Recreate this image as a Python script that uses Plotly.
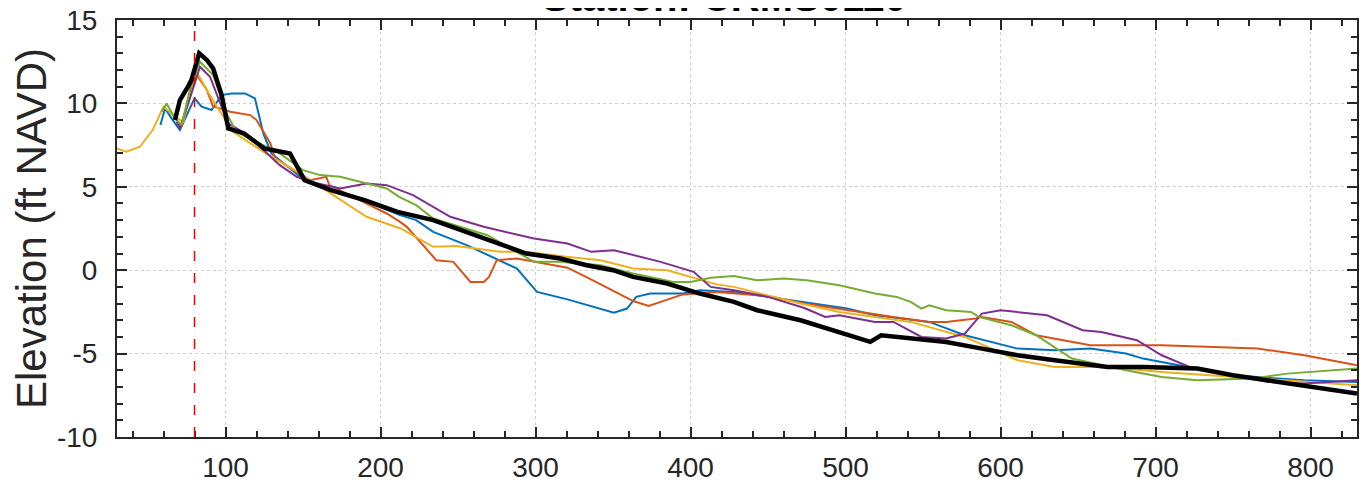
import plotly.graph_objects as go

# ---- data (station distance, elevation ft NAVD) ----
blue_x = [58, 61, 66, 70.6, 80, 84.6, 91, 97.5, 104, 112.6, 119, 124.4, 129.6, 151, 191, 212.6, 223, 234, 255.6, 288, 301, 320.6, 350.6, 359, 365, 374, 395, 406, 428, 471, 501, 519, 554, 577, 611, 635, 658, 681, 692, 715, 750, 796, 830]
blue_y = [8.7, 9.7, 9.0, 8.4, 10.3, 9.8, 9.6, 10.5, 10.6, 10.6, 10.3, 8.2, 7.0, 5.4, 4.1, 3.3, 3.0, 2.3, 1.5, 0.1, -1.3, -1.75, -2.55, -2.3, -1.6, -1.4, -1.4, -1.2, -1.3, -1.9, -2.3, -2.7, -3.1, -3.9, -4.7, -4.8, -4.7, -5.0, -5.3, -5.7, -6.3, -6.6, -6.7]

orange_x = [68.5, 71.7, 77, 81.4, 88, 92, 96.5, 103, 116, 120, 129, 132, 154.5, 165, 167, 180, 204, 212.6, 217, 236, 247, 258, 266.6, 270, 275, 288, 320.6, 338, 363, 373, 395, 417, 450, 473, 501, 531, 554, 565, 584, 588, 607, 623, 658, 704, 766, 796, 830]
orange_y = [9.0, 8.6, 10.6, 11.7, 10.8, 9.8, 9.7, 9.5, 9.3, 9.0, 7.6, 6.7, 5.4, 5.6, 5.1, 4.5, 3.4, 2.9, 2.6, 0.6, 0.5, -0.7, -0.7, -0.4, 0.6, 0.7, 0.15, -0.65, -1.85, -2.15, -1.45, -1.3, -1.55, -2.0, -2.4, -2.8, -3.1, -3.1, -2.9, -2.8, -3.1, -3.9, -4.5, -4.5, -4.7, -5.1, -5.7]

yellow_x = [30, 36, 44.8, 53, 60, 67.4, 72.8, 77, 82, 87.9, 96.5, 103, 104.8, 126, 148, 169.6, 191, 213, 234, 249, 277, 294, 320, 342, 363, 385, 400, 417, 428, 471, 496, 542, 577, 611, 635, 669, 704, 750, 796, 830]
yellow_y = [7.3, 7.1, 7.4, 8.4, 9.8, 9.2, 8.9, 10.4, 11.8, 10.8, 9.5, 8.5, 8.3, 7.0, 5.8, 4.5, 3.2, 2.5, 1.4, 1.45, 1.1, 1.1, 0.8, 0.6, 0.1, 0.0, -0.4, -0.85, -1.0, -2.0, -2.5, -3.1, -4.0, -5.4, -5.8, -5.8, -6.1, -6.4, -6.7, -6.9]

purple_x = [68.5, 70.6, 77, 83.5, 90, 96.5, 101.6, 111, 120, 135, 146, 154.5, 174, 191, 204, 221, 245, 266.6, 299, 320.6, 336, 350.6, 380.7, 402, 413, 428, 450, 473, 487, 496, 519, 531, 549, 565, 577, 588, 600, 630, 653, 665, 688, 704, 722, 750, 773, 796, 830]
purple_y = [8.9, 8.5, 10.3, 12.2, 11.6, 10.0, 8.8, 8.3, 7.6, 6.3, 5.6, 5.3, 4.9, 5.2, 5.1, 4.5, 3.2, 2.6, 1.9, 1.6, 1.1, 1.2, 0.5, -0.1, -1.0, -1.2, -1.6, -2.25, -2.8, -2.7, -3.1, -3.1, -4.0, -4.1, -3.8, -2.6, -2.4, -2.7, -3.6, -3.7, -4.2, -5.1, -5.8, -6.3, -6.7, -6.8, -6.6]

green_x = [58.8, 62, 67.4, 71.7, 77, 83.5, 92, 100.7, 107, 135, 150, 161, 174, 191, 204, 212, 223, 234, 269, 299, 316, 342, 363, 389, 400, 413, 428, 443, 460, 475, 496, 519, 533, 542, 549, 554, 565, 581, 586, 607, 623, 646, 681, 704, 727, 762, 785, 830]
green_y = [9.5, 10.0, 9.1, 8.7, 10.8, 12.5, 11.7, 9.4, 8.3, 7.0, 6.0, 5.7, 5.6, 5.2, 4.9, 4.4, 3.9, 3.1, 2.1, 0.5, 0.5, 0.3, -0.2, -0.7, -0.7, -0.45, -0.35, -0.6, -0.5, -0.6, -0.9, -1.4, -1.6, -1.9, -2.3, -2.1, -2.4, -2.5, -2.8, -3.3, -3.9, -5.3, -6.0, -6.4, -6.6, -6.5, -6.2, -5.9]

black_x = [67.4, 70.6, 75.8, 78, 83, 88, 92, 97.5, 101.8, 112, 125, 138, 141.6, 151, 168, 189.7, 211, 234, 255.6, 270.7, 283.6, 294, 316, 333, 350, 363, 385, 406, 428, 443, 471, 498, 516, 523, 542, 565, 588, 611, 635, 669, 692, 727, 750, 773, 796, 830]
black_y = [9.0, 10.2, 11.0, 11.4, 13.0, 12.6, 12.1, 10.5, 8.5, 8.2, 7.3, 7.1, 7.0, 5.4, 4.8, 4.2, 3.5, 3.0, 2.3, 1.8, 1.4, 1.0, 0.7, 0.3, 0.0, -0.4, -0.8, -1.4, -1.9, -2.4, -3.0, -3.8, -4.3, -3.9, -4.1, -4.3, -4.7, -5.1, -5.4, -5.8, -5.8, -5.9, -6.3, -6.6, -6.9, -7.4]

marker_x = 80
x_range = [30, 830]
y_range = [-10, 15]
x_ticks = [100, 200, 300, 400, 500, 600, 700, 800]
x_ticklabels = ["100", "200", "300", "400", "500", "600", "700", "800"]
y_ticks = [-10, -5, 0, 5, 10, 15]
y_ticklabels = ["-10", "-5", "0", "5", "10", "15"]
title_text = "Station: CRMS0110"
y_label = "Elevation (ft NAVD)"

series = [
    (blue_x, blue_y, "#0072BD"),
    (orange_x, orange_y, "#D95319"),
    (yellow_x, yellow_y, "#EDB120"),
    (purple_x, purple_y, "#7E2F8E"),
    (green_x, green_y, "#77AC30"),
]

fig = go.Figure()
for xs, ys, col in series:
    fig.add_trace(go.Scatter(x=xs, y=ys, mode="lines",
                             line=dict(color=col, width=2), showlegend=False))
fig.add_trace(go.Scatter(x=black_x, y=black_y, mode="lines",
                         line=dict(color="black", width=4.5), showlegend=False))

fig.add_shape(type="line", xref="x", yref="paper", x0=marker_x, x1=marker_x, y0=0, y1=1,
              line=dict(color="#ff0000", width=1.5, dash="10px,12px"))

# title sits mostly above the visible page, as in the reference
fig.add_annotation(text="<b>" + title_text + "</b>", xref="paper", yref="paper",
                   x=0.49, y=0.9966, xanchor="center", yanchor="bottom", showarrow=False,
                   font=dict(family="Liberation Sans, Arial", size=40, color="black"))

tickfont = dict(family="Liberation Sans, Arial", size=28, color="#262626")
axis_common = dict(
    showline=True, linecolor="#262626", linewidth=2, mirror="ticks",
    ticks="inside", ticklen=10, tickwidth=1.5, tickcolor="#262626",
    showgrid=True, gridcolor="#d0d0d0", griddash="dot", gridwidth=1,
    zeroline=False, tickfont=tickfont, automargin=False,
    ticklabeloverflow="allow",
)

fig.update_xaxes(range=x_range, tickmode="array", tickvals=x_ticks, ticktext=x_ticklabels,
                 ticklabelstandoff=4,
                 minor=dict(ticks="inside", ticklen=6, dtick=20, tick0=0,
                            tickcolor="#262626", showgrid=False),
                 **axis_common)
fig.update_yaxes(range=y_range, tickmode="array", tickvals=y_ticks, ticktext=y_ticklabels,
                 ticklabelstandoff=12,
                 minor=dict(ticks="inside", ticklen=6, dtick=1, tick0=0,
                            tickcolor="#262626", showgrid=False),
                 title=dict(text=y_label, font=dict(family="Liberation Sans, Arial", size=42, color="#262626"),
                            standoff=8),
                 **axis_common)

# the page adds an 8px body margin, so the figure is offset by 8px
fig.update_layout(width=1359, height=481,
                  margin=dict(l=109, r=10, t=12, b=52),
                  paper_bgcolor="white", plot_bgcolor="white")

fig.write_html("out.html")
